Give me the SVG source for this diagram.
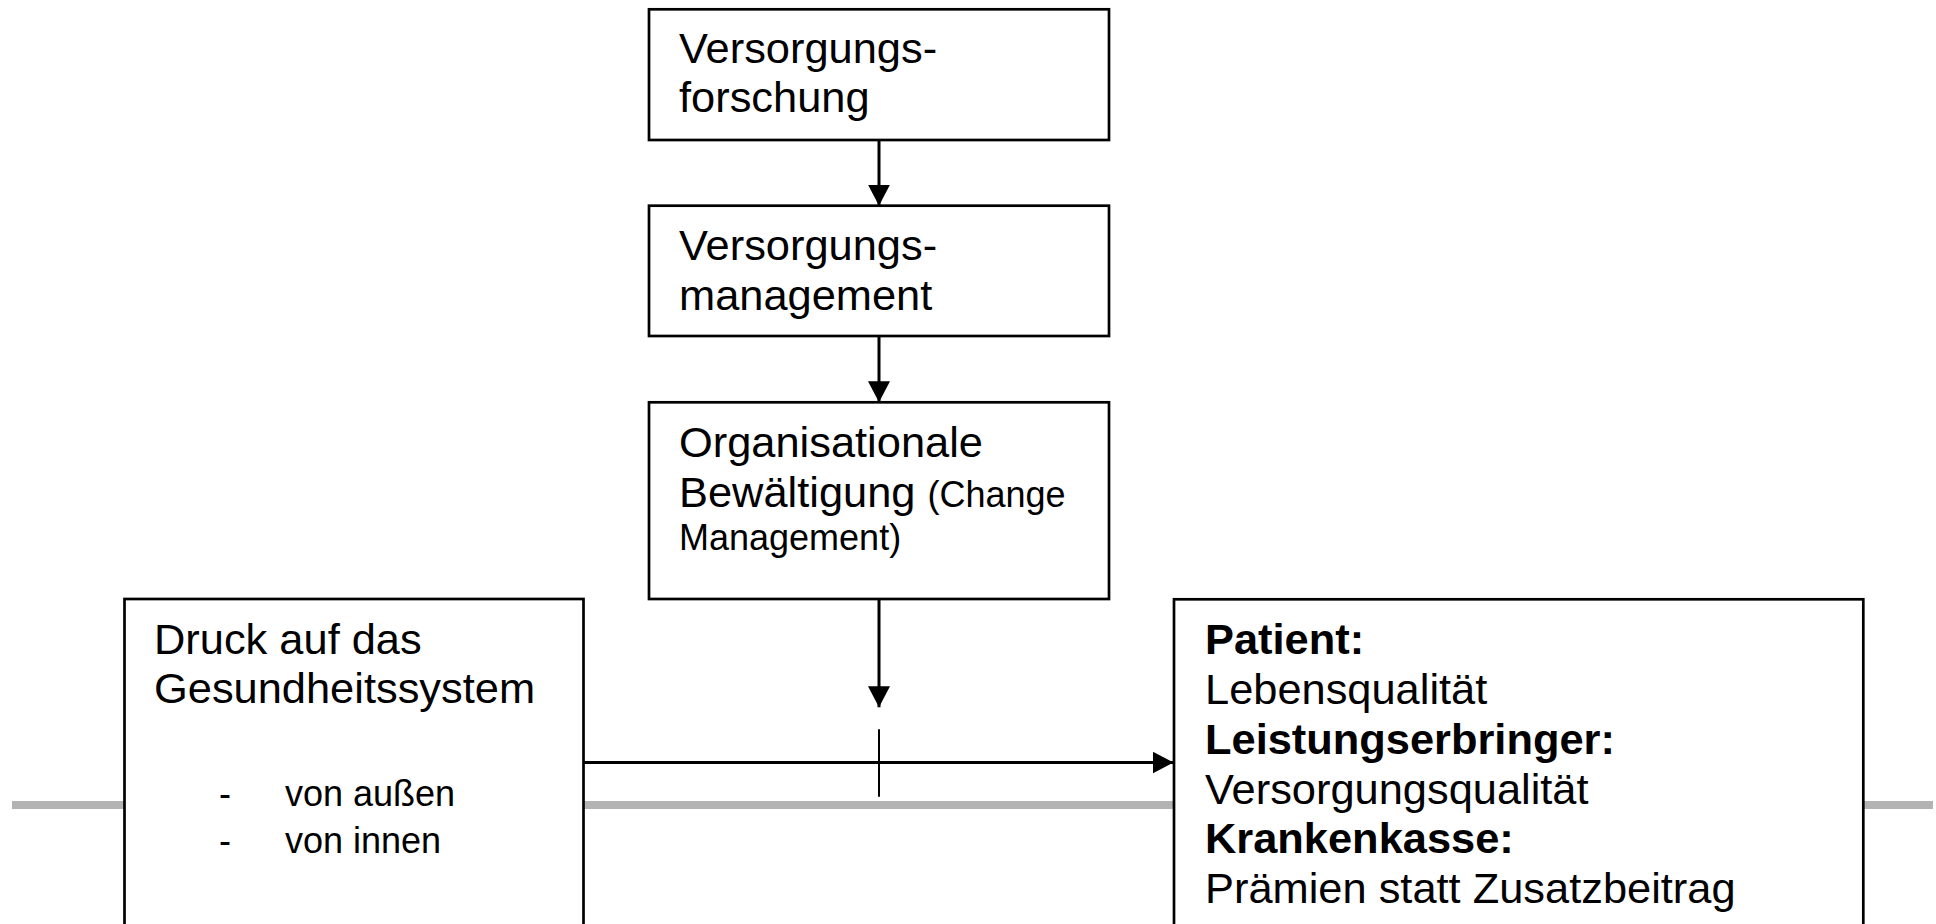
<svg xmlns="http://www.w3.org/2000/svg" width="1936" height="924" viewBox="0 0 1936 924">
<style>
.box{fill:#fff;stroke:#000;stroke-width:2.7}
.t{font-family:"Liberation Sans",Arial,sans-serif;font-size:43.4px;fill:#000}
.s{font-size:36px}
.b{font-weight:bold}
.c{stroke:#000;stroke-width:3;fill:none}
</style>
<defs>
<marker id="ah" markerUnits="userSpaceOnUse" markerWidth="22" markerHeight="22" refX="21" refY="11" orient="auto">
<path d="M0,0 L21,11 L0,22 z" fill="#000"/>
</marker>
</defs>
<rect id="rule" x="12" y="801" width="1921" height="8" fill="#b3b3b3"/>
<g id="n1">
<rect class="box" x="649" y="9.3" width="460" height="130.7"/>
<text class="t" x="679" y="63.3">Versorgungs-</text>
<text class="t" x="679" y="111.7">forschung</text>
</g>
<g id="n2">
<rect class="box" x="649" y="205.7" width="460" height="130.3"/>
<text class="t" x="679" y="260">Versorgungs-</text>
<text class="t" x="679" y="310">management</text>
</g>
<g id="n3">
<rect class="box" x="649" y="402.3" width="460" height="196.7"/>
<text class="t" x="679" y="456.7">Organisationale</text>
<text class="t" x="679" y="506.7">Bewältigung <tspan class="s">(Change</tspan></text>
<text class="t s" x="679" y="550">Management)</text>
</g>
<g id="n4">
<rect class="box" x="124.5" y="599" width="459" height="340"/>
<text class="t" x="154" y="654">Druck auf das</text>
<text class="t" x="154" y="703.3">Gesundheitssystem</text>
<text class="t s" x="219" y="806">-</text>
<text class="t s" x="285" y="806">von außen</text>
<text class="t s" x="219" y="853.3">-</text>
<text class="t s" x="285" y="853.3">von innen</text>
</g>
<g id="n5">
<rect class="box" x="1174" y="599.3" width="689.3" height="340"/>
<text class="t b" x="1205" y="654">Patient:</text>
<text class="t" x="1205" y="704">Lebensqualität</text>
<text class="t b" x="1205" y="754">Leistungserbringer:</text>
<text class="t" x="1205" y="804">Versorgungsqualität</text>
<text class="t b" x="1205" y="853.3">Krankenkasse:</text>
<text class="t" x="1205" y="903.3">Prämien statt Zusatzbeitrag</text>
</g>
<g id="connectors">
<line class="c" x1="879" y1="140" x2="879" y2="205.7" marker-end="url(#ah)"/>
<line class="c" x1="879" y1="336" x2="879" y2="402.3" marker-end="url(#ah)"/>
<line class="c" x1="879" y1="599" x2="879" y2="707.3" marker-end="url(#ah)"/>
<line class="c" x1="583.5" y1="762.5" x2="1173.5" y2="762.5" marker-end="url(#ah)"/>
<line stroke="#000" stroke-width="2" x1="879" y1="729.3" x2="879" y2="796.7"/>
</g>
</svg>
